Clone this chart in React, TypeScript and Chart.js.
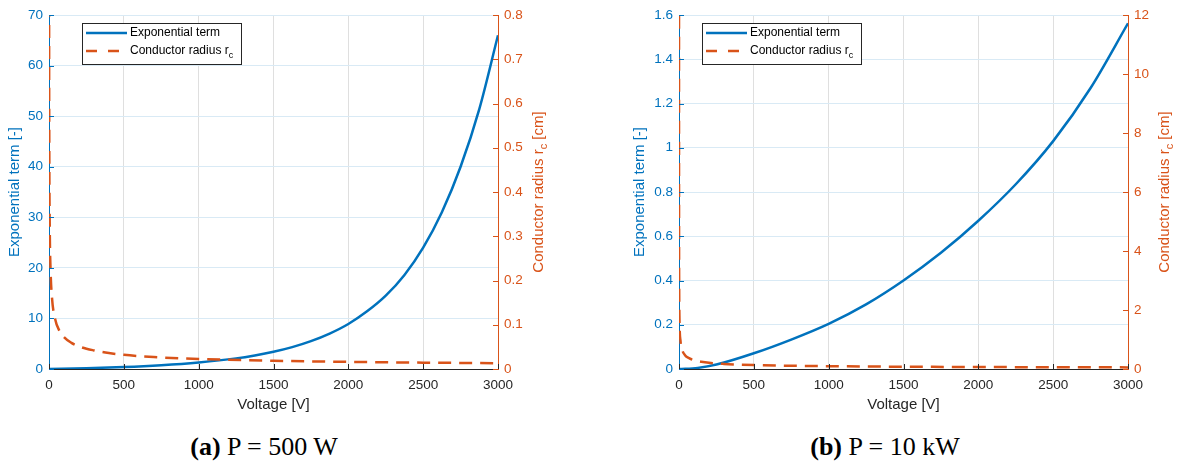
import React, { useEffect, useRef } from "react";
import { Chart, registerables } from "chart.js";

Chart.register(...registerables);

// ---------- data ----------
const voltageTicks = [0, 500, 1000, 1500, 2000, 2500, 3000];
const voltageTickLabels = ["0", "500", "1000", "1500", "2000", "2500", "3000"];

// (a) P = 500 W
const expVoltageA = [0, 250, 500, 750, 1000, 1250, 1375, 1500, 1625, 1750, 1875, 2000, 2125, 2250, 2375, 2500, 2625, 2750, 2875, 3000];
const expTermA = [0, 0.15, 0.38, 0.75, 1.3, 2.1, 2.68, 3.4, 4.32, 5.5, 7.0, 8.9, 11.4, 14.5, 18.6, 24, 31, 40, 51.4, 66];
const radVoltageA = [0.3, 0.8, 2, 5, 10, 20, 40, 70, 100, 150, 200, 300, 400, 500, 700, 1000, 1500, 2000, 2500, 3000];
const radiusA = [1.3, 0.8, 0.51, 0.32, 0.228, 0.161, 0.114, 0.086, 0.072, 0.059, 0.051, 0.042, 0.036, 0.032, 0.027, 0.0228, 0.0186, 0.0161, 0.0144, 0.0131];
const leftTicksA = [0, 10, 20, 30, 40, 50, 60, 70];
const leftTickLabelsA = ["0", "10", "20", "30", "40", "50", "60", "70"];
const rightTicksA = [0, 0.1, 0.2, 0.3, 0.4, 0.5, 0.6, 0.7, 0.8];
const rightTickLabelsA = ["0", "0.1", "0.2", "0.3", "0.4", "0.5", "0.6", "0.7", "0.8"];

// (b) P = 10 kW
const expVoltageB = [0, 125, 250, 500, 750, 1000, 1250, 1500, 1750, 2000, 2250, 2500, 2750, 3000];
const expTermB = [0, 0.005, 0.02, 0.071, 0.133, 0.204, 0.292, 0.4, 0.525, 0.67, 0.835, 1.03, 1.27, 1.5625];
const radVoltageB = [0.05, 0.2, 1, 3, 10, 20, 40, 70, 100, 150, 200, 300, 400, 500, 700, 1000, 1500, 2000, 2500, 3000];
const radiusB = [13.4, 6.7, 3.0, 1.73, 0.95, 0.67, 0.47, 0.36, 0.3, 0.245, 0.21, 0.173, 0.15, 0.134, 0.113, 0.095, 0.077, 0.067, 0.06, 0.055];
const leftTicksB = [0, 0.2, 0.4, 0.6, 0.8, 1, 1.2, 1.4, 1.6];
const leftTickLabelsB = ["0", "0.2", "0.4", "0.6", "0.8", "1", "1.2", "1.4", "1.6"];
const rightTicksB = [0, 2, 4, 6, 8, 10, 12];
const rightTickLabelsB = ["0", "2", "4", "6", "8", "10", "12"];

// ---------- style ----------
const FONT = "'Liberation Sans', Arial, Helvetica, sans-serif";
const BLUE = "#0072BD";
const ORANGE = "#D95319";
const DARK = "#262626";
const CANVAS_H = 425;

type Panel = {
  left: number;
  width: number;
  areaLeft: number;
  areaRight: number;
  expV: number[];
  expY: number[];
  radV: number[];
  radY: number[];
  leftTicks: number[];
  leftLabels: string[];
  rightTicks: number[];
  rightLabels: string[];
  leftTitleX: number;
  rightTitleX: number;
  legendX: number;
  legendY: number;
};

const panelA: Panel = {
  left: 0, width: 570, areaLeft: 49, areaRight: 498,
  expV: expVoltageA, expY: expTermA, radV: radVoltageA, radY: radiusA,
  leftTicks: leftTicksA, leftLabels: leftTickLabelsA,
  rightTicks: rightTicksA, rightLabels: rightTickLabelsA,
  leftTitleX: 15, rightTitleX: 539, legendX: 82, legendY: 23,
};
const panelB: Panel = {
  left: 620, width: 562, areaLeft: 59, areaRight: 508,
  expV: expVoltageB, expY: expTermB, radV: radVoltageB, radY: radiusB,
  leftTicks: leftTicksB, leftLabels: leftTickLabelsB,
  rightTicks: rightTicksB, rightLabels: rightTickLabelsB,
  leftTitleX: 20, rightTitleX: 545, legendX: 82, legendY: 23,
};

type Part = { t: string; size: number; dy: number };

function drawParts(ctx: CanvasRenderingContext2D, parts: Part[], x: number, y: number, color: string, center: boolean) {
  let total = 0;
  const widths = parts.map((p) => {
    ctx.font = `${p.size}px ${FONT}`;
    const w = ctx.measureText(p.t).width;
    total += w;
    return w;
  });
  let cx = center ? x - total / 2 : x;
  ctx.fillStyle = color;
  ctx.textAlign = "left";
  ctx.textBaseline = "middle";
  parts.forEach((p, i) => {
    ctx.font = `${p.size}px ${FONT}`;
    ctx.fillText(p.t, cx, y + p.dy);
    cx += widths[i];
  });
}

function makeOverlay(p: Panel) {
  return {
    id: "overlay",
    afterDraw(chart: any) {
      const ctx: CanvasRenderingContext2D = chart.ctx;
      const ca = chart.chartArea;
      const sx = chart.scales.x;
      const sy = chart.scales.y;
      const sy1 = chart.scales.y1;
      ctx.save();
      ctx.lineWidth = 1;
      // inward tick marks
      ctx.strokeStyle = DARK;
      voltageTicks.forEach((v) => {
        const px = Math.round(sx.getPixelForValue(v)) + 0.5;
        ctx.beginPath();
        ctx.moveTo(px, ca.bottom);
        ctx.lineTo(px, ca.bottom - 5);
        ctx.stroke();
      });
      ctx.strokeStyle = BLUE;
      p.leftTicks.forEach((v) => {
        const py = Math.round(sy.getPixelForValue(v)) + 0.5;
        ctx.beginPath();
        ctx.moveTo(ca.left, py);
        ctx.lineTo(ca.left + 5, py);
        ctx.stroke();
      });
      ctx.strokeStyle = ORANGE;
      p.rightTicks.forEach((v) => {
        const py = Math.round(sy1.getPixelForValue(v)) + 0.5;
        ctx.beginPath();
        ctx.moveTo(ca.right, py);
        ctx.lineTo(ca.right - 5, py);
        ctx.stroke();
      });

      // axis titles
      const midY = (ca.top + ca.bottom) / 2;
      ctx.font = `15px ${FONT}`;
      ctx.fillStyle = DARK;
      ctx.textAlign = "center";
      ctx.textBaseline = "middle";
      ctx.fillText("Voltage [V]", (ca.left + ca.right) / 2, 405);

      ctx.save();
      ctx.translate(p.leftTitleX, midY);
      ctx.rotate(-Math.PI / 2);
      ctx.fillStyle = BLUE;
      ctx.fillText("Exponential term [-]", 0, 0);
      ctx.restore();

      ctx.save();
      ctx.translate(p.rightTitleX, midY);
      ctx.rotate(-Math.PI / 2);
      drawParts(ctx, [
        { t: "Conductor radius r", size: 15, dy: 0 },
        { t: "c", size: 11, dy: 5 },
        { t: " [cm]", size: 15, dy: 0 },
      ], 0, 0, ORANGE, true);
      ctx.restore();

      // legend
      const bx = p.legendX + 0.5;
      const by = p.legendY + 0.5;
      ctx.fillStyle = "#ffffff";
      ctx.fillRect(bx, by, 159, 41);
      ctx.strokeStyle = DARK;
      ctx.lineWidth = 1;
      ctx.strokeRect(bx, by, 159, 41);

      ctx.lineWidth = 2.5;
      ctx.strokeStyle = BLUE;
      ctx.setLineDash([]);
      ctx.beginPath();
      ctx.moveTo(p.legendX + 4, p.legendY + 10);
      ctx.lineTo(p.legendX + 45, p.legendY + 10);
      ctx.stroke();

      ctx.strokeStyle = ORANGE;
      ctx.setLineDash([11, 11]);
      ctx.beginPath();
      ctx.moveTo(p.legendX + 4, p.legendY + 28);
      ctx.lineTo(p.legendX + 45, p.legendY + 28);
      ctx.stroke();
      ctx.setLineDash([]);

      drawParts(ctx, [{ t: "Exponential term", size: 12, dy: 0 }], p.legendX + 48, p.legendY + 10, "#000000", false);
      drawParts(ctx, [
        { t: "Conductor radius r", size: 12, dy: 0 },
        { t: "c", size: 9, dy: 5 },
      ], p.legendX + 48, p.legendY + 28, "#000000", false);

      ctx.restore();
    },
  };
}

function tickFont() {
  return { family: FONT, size: 13.5 };
}

function buildConfig(p: Panel): any {
  const expData = p.expV.map((v, i) => ({ x: v, y: p.expY[i] }));
  const radData = p.radV.map((v, i) => ({ x: v, y: p.radY[i] }));
  return {
    type: "line",
    data: {
      datasets: [
        {
          label: "Exponential term",
          data: expData,
          yAxisID: "y",
          borderColor: BLUE,
          borderWidth: 2.5,
          pointRadius: 0,
          cubicInterpolationMode: "monotone",
          fill: false,
          clip: 0,
          order: 2,
        },
        {
          label: "Conductor radius r_c",
          data: radData,
          yAxisID: "y1",
          borderColor: ORANGE,
          borderWidth: 2.5,
          borderDash: [13, 8],
          pointRadius: 0,
          cubicInterpolationMode: "monotone",
          fill: false,
          clip: 0,
          order: 1,
        },
      ],
    },
    options: {
      animation: false,
      responsive: false,
      maintainAspectRatio: false,
      events: [],
      layout: { padding: { top: 15, left: 0, right: 0, bottom: 0 } },
      plugins: {
        legend: { display: false },
        tooltip: { enabled: false },
        title: { display: false },
      },
      scales: {
        x: {
          type: "linear",
          position: "bottom",
          min: 0,
          max: 3000,
          afterBuildTicks: (s: any) => {
            s.ticks = voltageTicks.map((v) => ({ value: v }));
          },
          afterFit: (s: any) => {
            s.height = CANVAS_H - 369;
          },
          ticks: {
            font: tickFont(),
            color: DARK,
            padding: 8,
            maxRotation: 0,
            autoSkip: false,
            callback: (_v: any, i: number) => voltageTickLabels[i],
          },
          grid: { color: "#dfdfdf", lineWidth: 1, drawTicks: false },
          border: { color: DARK, width: 1 },
        },
        y: {
          type: "linear",
          position: "left",
          min: p.leftTicks[0],
          max: p.leftTicks[p.leftTicks.length - 1],
          afterBuildTicks: (s: any) => {
            s.ticks = p.leftTicks.map((v) => ({ value: v }));
          },
          afterFit: (s: any) => {
            s.width = p.areaLeft;
          },
          ticks: {
            font: tickFont(),
            color: BLUE,
            padding: 6,
            autoSkip: false,
            callback: (_v: any, i: number) => p.leftLabels[i],
          },
          grid: { color: "#d9eaf5", lineWidth: 1, drawTicks: false },
          border: { color: BLUE, width: 1 },
        },
        y1: {
          type: "linear",
          position: "right",
          min: p.rightTicks[0],
          max: p.rightTicks[p.rightTicks.length - 1],
          afterBuildTicks: (s: any) => {
            s.ticks = p.rightTicks.map((v) => ({ value: v }));
          },
          afterFit: (s: any) => {
            s.width = p.width - p.areaRight;
          },
          ticks: {
            font: tickFont(),
            color: ORANGE,
            padding: 6,
            autoSkip: false,
            callback: (_v: any, i: number) => p.rightLabels[i],
          },
          grid: { drawOnChartArea: false, drawTicks: false },
          border: { color: ORANGE, width: 1 },
        },
      },
    },
    plugins: [makeOverlay(p)],
  };
}

function ChartPanel({ panel }: { panel: Panel }) {
  const ref = useRef<HTMLCanvasElement | null>(null);
  useEffect(() => {
    const canvas = ref.current;
    if (!canvas) return;
    const chart = new Chart(canvas, buildConfig(panel));
    return () => chart.destroy();
  }, [panel]);
  return (
    <div style={{ position: "absolute", left: panel.left, top: 0, width: panel.width, height: CANVAS_H }}>
      <canvas
        ref={ref}
        width={panel.width}
        height={CANVAS_H}
        style={{ width: panel.width, height: CANVAS_H, display: "block" }}
      />
    </div>
  );
}

function Caption({ center, tag, text }: { center: number; tag: string; text: string }) {
  return (
    <div
      style={{
        position: "absolute",
        left: center - 200,
        width: 400,
        top: 431,
        lineHeight: "32px",
        textAlign: "center",
        fontFamily: "'Liberation Serif', 'Times New Roman', serif",
        fontSize: 26,
        color: "#000",
        whiteSpace: "nowrap",
      }}
    >
      <b>{tag}</b> {text}
    </div>
  );
}

export default function App() {
  return (
    <div style={{ position: "absolute", left: 0, top: 0, width: 1182, height: 465, background: "#fff", overflow: "hidden" }}>
      <ChartPanel panel={panelA} />
      <ChartPanel panel={panelB} />
      <Caption center={264} tag="(a)" text="P = 500 W" />
      <Caption center={885} tag="(b)" text="P = 10 kW" />
    </div>
  );
}
